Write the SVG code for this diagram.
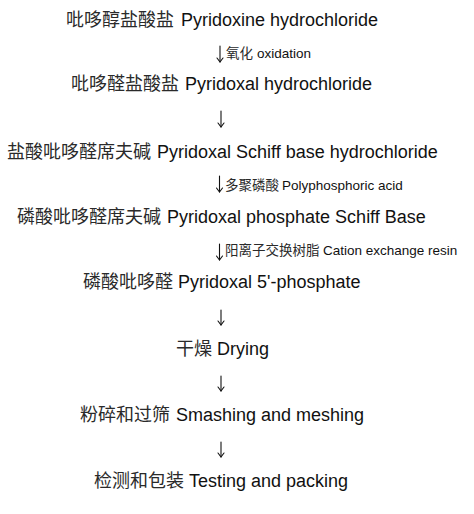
<svg xmlns="http://www.w3.org/2000/svg" width="474" height="514" viewBox="0 0 474 514">
<style>
  .step { font-size: 18px; fill: #111; }
  .lab { font-size: 13.5px; fill: #111; }
  .zh { font-family: "Noto Sans CJK SC", "Noto Sans CJK TC", sans-serif; fill: #2a2a2a; }
  .en { font-family: "Liberation Sans", Arial, sans-serif; }
  .arrow { fill: none; stroke: #111; stroke-width: 1.1; stroke-linecap: round; stroke-linejoin: round; }
</style>
<defs>
  <marker id="head" viewBox="0 0 6 8" refX="5" refY="4" markerWidth="6" markerHeight="8" markerUnits="userSpaceOnUse" orient="auto">
    <path d="M1,1 L5,4 L1,7" fill="none" stroke="#111" stroke-width="1.1" stroke-linecap="round" stroke-linejoin="round"/>
  </marker>
</defs>
<rect width="474" height="514" fill="#ffffff"/>
<g id="n1"><text class="step" y="26"><tspan class="zh" x="66">吡哆醇盐酸盐</tspan><tspan class="en" x="181">Pyridoxine hydrochloride</tspan></text></g>
<g id="n2"><text class="step" y="90"><tspan class="zh" x="71">吡哆醛盐酸盐</tspan><tspan class="en" x="185">Pyridoxal hydrochloride</tspan></text></g>
<g id="n3"><text class="step" y="158"><tspan class="zh" x="7">盐酸吡哆醛席夫碱</tspan><tspan class="en" x="157">Pyridoxal Schiff base hydrochloride</tspan></text></g>
<g id="n4"><text class="step" y="223"><tspan class="zh" x="17">磷酸吡哆醛席夫碱</tspan><tspan class="en" x="167">Pyridoxal phosphate Schiff Base</tspan></text></g>
<g id="n5"><text class="step" y="288"><tspan class="zh" x="83">磷酸吡哆醛</tspan><tspan class="en" x="178">Pyridoxal 5'-phosphate</tspan></text></g>
<g id="n6"><text class="step" y="355"><tspan class="zh" x="176">干燥</tspan><tspan class="en" x="217">Drying</tspan></text></g>
<g id="n7"><text class="step" y="421"><tspan class="zh" x="80">粉碎和过筛</tspan><tspan class="en" x="176">Smashing and meshing</tspan></text></g>
<g id="n8"><text class="step" y="487"><tspan class="zh" x="94">检测和包装</tspan><tspan class="en" x="189">Testing and packing</tspan></text></g>
<g id="connectors">
  <path class="arrow" d="M220,46 V62" marker-end="url(#head)"/>
  <text class="lab" y="58"><tspan class="zh" x="226">氧化</tspan><tspan class="en" x="257">oxidation</tspan></text>
  <path class="arrow" d="M221,111 V127" marker-end="url(#head)"/>
  <path class="arrow" d="M219.5,176 V192" marker-end="url(#head)"/>
  <text class="lab" y="190"><tspan class="zh" x="225">多聚磷酸</tspan><tspan class="en" x="282">Polyphosphoric acid</tspan></text>
  <path class="arrow" d="M219.5,244 V260" marker-end="url(#head)"/>
  <text class="lab" y="255"><tspan class="zh" x="225">阳离子交换树脂</tspan><tspan class="en" x="323">Cation exchange resin</tspan></text>
  <path class="arrow" d="M221,310 V325" marker-end="url(#head)"/>
  <path class="arrow" d="M221,376 V391" marker-end="url(#head)"/>
  <path class="arrow" d="M221,442 V457" marker-end="url(#head)"/>
</g>
</svg>
